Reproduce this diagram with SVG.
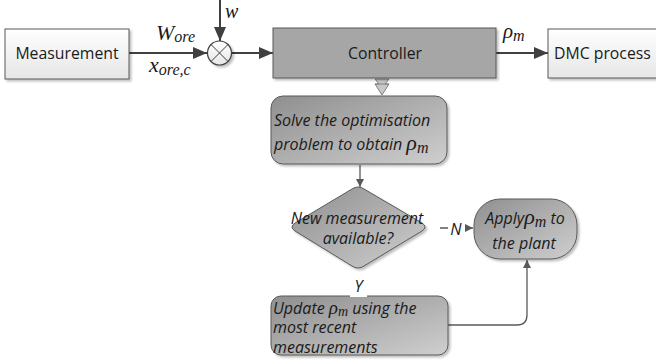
<svg xmlns="http://www.w3.org/2000/svg" width="656" height="364" viewBox="0 0 656 364">
<defs>
<linearGradient id="gWhite" x1="0" y1="0" x2="0" y2="1"><stop offset="0" stop-color="#ffffff"/><stop offset="1" stop-color="#e6e6e6"/></linearGradient>
<linearGradient id="gFlow" x1="0" y1="0" x2="1" y2="1"><stop offset="0" stop-color="#8f8f8f"/><stop offset="1" stop-color="#cfcfcf"/></linearGradient>
<filter id="sh" x="-10%" y="-10%" width="130%" height="130%"><feDropShadow dx="2" dy="2" stdDeviation="1.2" flood-color="#000" flood-opacity="0.25"/></filter>
<marker id="aBig" viewBox="0 0 14 12" refX="14" refY="6" markerWidth="14" markerHeight="12" markerUnits="userSpaceOnUse" orient="auto"><path d="M0,0 L14,6 L0,12 z" fill="#404040"/></marker>
<marker id="aFlow" viewBox="0 0 10 10" refX="10" refY="5" markerWidth="8" markerHeight="8" markerUnits="userSpaceOnUse" orient="auto"><path d="M0,0 L10,5 L0,10 z" fill="#595959"/></marker>
</defs>
<style>
.box{stroke:#595959;stroke-width:1}
.lbl{font-family:"Open Sans","Liberation Sans",sans-serif;font-size:15.8px;fill:#1a1a1a}
.it{font-family:"Open Sans","Liberation Sans",sans-serif;font-style:italic;font-size:16px;fill:#1a1a1a}
.math{font-family:"Liberation Serif","DejaVu Serif",serif;font-style:italic;fill:#1a1a1a}
.line{stroke:#404040;stroke-width:2;fill:none}
.fline{stroke:#595959;stroke-width:1.3;fill:none}
</style>

<g id="connectors">
  <line class="line" x1="129" y1="53" x2="207" y2="53" marker-end="url(#aBig)"/>
  <line class="line" x1="220" y1="0" x2="220" y2="41" marker-end="url(#aBig)"/>
  <line class="line" x1="232" y1="53" x2="273" y2="53" marker-end="url(#aBig)"/>
  <line class="line" x1="496" y1="53" x2="548" y2="53" marker-end="url(#aBig)"/>
  <path d="M375,79 L389,79 L385,84 L389,84 L382,95 L375,84 L379,84 Z M375,84 L389,84" fill="#c8c8c8" stroke="#808080" stroke-width="1"/>
  <line class="fline" x1="360" y1="165" x2="360" y2="187" marker-end="url(#aFlow)"/>
  <line class="fline" x1="440" y1="228" x2="473" y2="228" marker-end="url(#aFlow)"/>
  <path class="fline" d="M448,325 L517,325 Q527,325 527,315 L527,260" marker-end="url(#aFlow)"/>
</g>

<g id="measurement">
  <rect class="box" x="5" y="29" width="124" height="50" fill="url(#gWhite)" filter="url(#sh)"/>
  <text class="lbl" x="67" y="59" text-anchor="middle">Measurement</text>
</g>

<g id="sum">
  <circle cx="219.5" cy="53" r="12" fill="url(#gWhite)" stroke="#404040" stroke-width="1.2" filter="url(#sh)"/>
  <path d="M211,44.5 L228,61.5 M228,44.5 L211,61.5" stroke="#404040" stroke-width="1"/>
</g>

<g id="labels-top">
  <text class="math" x="156" y="40" font-size="22">W<tspan font-size="16" dy="2">ore</tspan></text>
  <text class="math" x="149" y="72" font-size="22">x<tspan font-size="16" dy="3">ore,c</tspan></text>
  <text class="math" x="225" y="18" font-size="20">w</text>
  <text class="math" x="503" y="38" font-size="21">ρ<tspan font-size="16" dy="3">m</tspan></text>
</g>

<g id="controller">
  <rect x="273" y="28" width="223" height="50" fill="#a6a6a6" stroke="#595959" stroke-width="1" filter="url(#sh)"/>
  <text class="lbl" x="385" y="59" text-anchor="middle">Controller</text>
</g>

<g id="dmc">
  <rect class="box" x="548" y="29" width="112" height="49" fill="url(#gWhite)" filter="url(#sh)"/>
  <text class="lbl" x="554" y="59">DMC process</text>
</g>

<g id="solve">
  <rect class="box" x="271" y="96" width="176" height="68" rx="12" fill="url(#gFlow)" filter="url(#sh)"/>
  <text class="it" x="274" y="126">Solve the optimisation</text>
  <text class="it" x="274" y="150">problem to obtain <tspan class="math" font-size="22">ρ<tspan font-size="16" dy="3">m</tspan></tspan></text>
</g>

<g id="decision">
  <path class="box" d="M352,189 Q358,185 364,189 L422,223 Q428,227 422,231 L364,266 Q358,270 352,266 L295,231 Q289,227 295,223 Z" fill="url(#gFlow)" filter="url(#sh)"/>
  <text class="it" x="357" y="224" text-anchor="middle">New measurement</text>
  <text class="it" x="358" y="244" text-anchor="middle">available?</text>
</g>

<g id="apply">
  <rect class="box" x="474" y="199" width="103" height="60" rx="26" fill="url(#gFlow)" filter="url(#sh)"/>
  <text class="it" x="525" y="224" text-anchor="middle">Apply<tspan class="math" font-size="22">ρ<tspan font-size="16" dy="3">m</tspan></tspan><tspan dy="-3"> to</tspan></text>
  <text class="it" x="524" y="249" text-anchor="middle">the plant</text>
</g>

<g id="update">
  <rect class="box" x="271" y="296" width="177" height="59" rx="10" fill="url(#gFlow)" filter="url(#sh)"/>
  <text class="it" x="273" y="313.5" font-size="15">Update <tspan class="math" font-size="19">ρ<tspan font-size="14" dy="2">m</tspan></tspan><tspan dy="-2"> using the</tspan></text>
  <text class="it" x="273" y="333" font-size="15">most recent</text>
  <text class="it" x="273" y="352.5" font-size="15">measurements</text>
</g>

<g id="edge-labels">
  <rect x="448" y="218" width="17" height="20" fill="#ffffff"/>
  <text class="it" x="456" y="235" text-anchor="middle" font-size="19">N</text>
  <rect x="350" y="274" width="17" height="23" fill="#ffffff"/>
  <text class="it" x="358.5" y="292" text-anchor="middle" font-size="19">Y</text>
</g>
</svg>
